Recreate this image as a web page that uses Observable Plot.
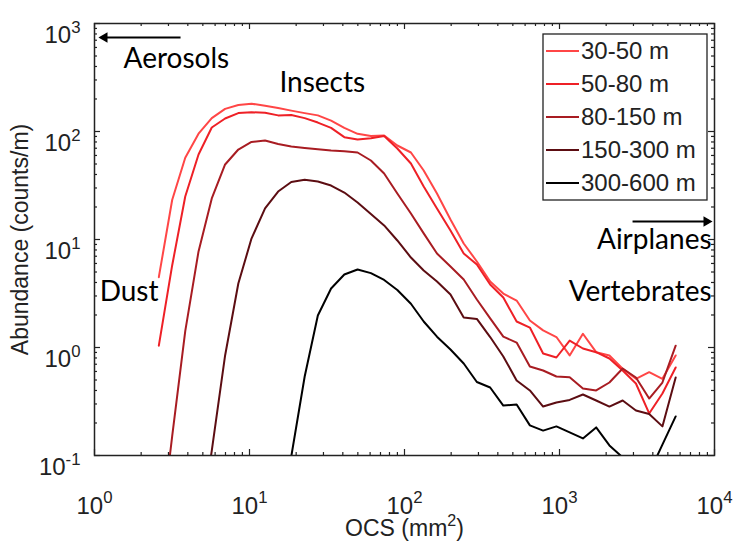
<!DOCTYPE html>
<html>
<head>
<meta charset="utf-8">
<script src="https://cdn.jsdelivr.net/npm/d3@7"></script>
<script src="https://cdn.jsdelivr.net/npm/@observablehq/plot@0.6"></script>
<style>
  html, body { margin: 0; padding: 0; background: #fff; }
  #chart { width: 733px; height: 541px; }
</style>
</head>
<body>
<div id="chart"></div>
<script>
// Optical cross-section bin centres (mm^2)
const ocs = [2.60, 3.17, 3.85, 4.69, 5.71, 6.96, 8.47, 10.3, 12.6, 15.3,
             18.6, 22.7, 27.6, 33.6, 40.9, 49.8, 60.7, 73.9, 89.9, 110,
             133, 162, 198, 241, 293, 357, 434, 529, 644, 784,
             955, 1163, 1416, 1724, 2099, 2556, 3112, 3789, 4613, 5617];

// Height bands
const bands = ["30-50 m", "50-80 m", "80-150 m", "150-300 m", "300-600 m"];
const bandColors = ["#ff4646", "#ee2026", "#a81c22", "#5c0d12", "#000000"];

// Abundance (counts/m) per OCS bin, one array per height band
const abund30to50 = [4.48, 23.2, 57.2, 95.4, 133, 162, 176, 181, 173, 165,
                     156, 148, 141, 126, 108, 95.1, 90.7, 91.8, 74.2, 63.9,
                     43.5, 26.7, 15.3, 9.18, 6.26, 4.08, 3.16, 2.72, 1.78, 1.44,
                     1.25, 0.844, 1.34, 0.905, 0.844, 0.635, 0.513, 0.591, 0.513, 0.844];
const abund50to80 = [1.04, 5.75, 25.0, 61.2, 109, 132, 148, 151, 149, 141,
                     142, 133, 121, 108, 88.6, 84.3, 86.7, 90.8, 69.6, 50.5,
                     31.0, 19.4, 12.1, 7.42, 5.87, 3.83, 2.90, 1.74, 1.53, 0.880,
                     0.808, 1.16, 0.979, 0.905, 0.791, 0.612, 0.464, 0.245, 0.375, 0.653];
const abund80to150 = [0.014, 0.150, 1.42, 7.76, 24.0, 49.5, 68.1, 80.0, 82.6, 76.6,
                      72.6, 70.5, 68.6, 66.7, 65.7, 63.9, 53.9, 40.8, 26.7, 17.4,
                      11.4, 7.42, 5.62, 4.26, 2.78, 1.86, 1.26, 1.11, 0.667, 0.612,
                      0.539, 0.531, 0.417, 0.400, 0.474, 0.639, 0.528, 0.337, 0.474, 1.04];
const abund150to300 = [null, null, null, 0.016, 0.111, 0.844, 3.91, 10.2, 19.4, 27.8,
                       34.1, 35.7, 34.4, 31.6, 27.2, 22.0, 17.2, 13.5, 9.79, 6.81,
                       5.16, 4.08, 3.10, 1.90, 1.84, 1.25, 0.826, 0.495, 0.400, 0.284,
                       0.310, 0.327, 0.367, 0.323, 0.284, 0.323, 0.261, 0.242, 0.186, 0.528];
const abund300to600 = [null, null, null, null, null, null, null, null, null, 0.017,
                       0.098, 0.539, 1.98, 3.52, 4.74, 5.28, 4.88, 4.22, 3.41, 2.54,
                       1.74, 1.26, 0.958, 0.711, 0.479, 0.426, 0.290, 0.297, 0.190, 0.170,
                       0.186, 0.164, 0.144, 0.182, 0.124, 0.096, 0.076, 0.069, 0.126, 0.230];

// Axis ticks
const xMajor = [1, 10, 100, 1000, 10000];
const yMajor = [0.1, 1, 10, 100, 1000];
const xMinor = d3.range(0, 4).flatMap(e => d3.range(2, 10).map(m => m * 10 ** e));
const yMinor = d3.range(-1, 3).flatMap(e => d3.range(2, 10).map(m => m * 10 ** e));

// Target-class annotations
const leftLabels = [
  {text: "Aerosols", x: 1.54, y: 464},
  {text: "Insects",  x: 15.6, y: 284},
  {text: "Dust",     x: 1.08, y: 3.23}
];
const rightLabels = [
  {text: "Airplanes",   x: 9570, y: 9.8},
  {text: "Vertebrates", x: 9570, y: 3.23}
];
const arrows = [
  {x1: 3.59, x2: 1.16, y: 742},
  {x1: 2960, x2: 8880, y: 14.7}
];

const profiles = [abund30to50, abund50to80, abund80to150, abund150to300, abund300to600];
const rows = profiles.flatMap((vals, i) =>
  vals.map((v, k) => ({ocs: ocs[k], abundance: v, band: bands[i]}))
).filter(d => d.abundance != null);

const frameH = 455 - 23, frameW = 714 - 94;
const majorLen = 6, minorLen = 3;
const fmt = d => `10^${Math.round(Math.log10(d))}`;
const tickStyle = {stroke: "#222", strokeWidth: 1.2};
const noteFont = "Lato, 'Open Sans', sans-serif";

const plot = Plot.plot({
  width: 733,
  height: 541,
  marginLeft: 94,
  marginRight: 19,
  marginTop: 23,
  marginBottom: 86,
  x: {type: "log", domain: [1, 1e4], axis: null},
  y: {type: "log", domain: [0.1, 1000], axis: null},
  color: {domain: bands, range: bandColors},
  style: {fontFamily: "'Liberation Sans', Arial, sans-serif", fontSize: "24px", background: "#fff", color: "#000"},
  marks: [
    // inward ticks on all four sides
    Plot.ruleX(xMajor, {x: d => d, insetTop: frameH - majorLen, ...tickStyle}),
    Plot.ruleX(xMajor, {x: d => d, insetBottom: frameH - majorLen, ...tickStyle}),
    Plot.ruleX(xMinor, {x: d => d, insetTop: frameH - minorLen, ...tickStyle}),
    Plot.ruleX(xMinor, {x: d => d, insetBottom: frameH - minorLen, ...tickStyle}),
    Plot.ruleY(yMajor, {y: d => d, insetRight: frameW - majorLen, ...tickStyle}),
    Plot.ruleY(yMajor, {y: d => d, insetLeft: frameW - majorLen, ...tickStyle}),
    Plot.ruleY(yMinor, {y: d => d, insetRight: frameW - minorLen, ...tickStyle}),
    Plot.ruleY(yMinor, {y: d => d, insetLeft: frameW - minorLen, ...tickStyle}),

    // abundance profiles
    Plot.line(rows, {x: "ocs", y: "abundance", z: "band", stroke: "band", strokeWidth: 2, clip: true}),

    // annotations
    Plot.link(arrows, {x1: "x1", x2: "x2", y1: "y", y2: "y", stroke: "#000", strokeWidth: 2}),
    Plot.dot(arrows, {x: "x2", y: "y", symbol: "triangle2", r: 5, fill: "#000",
                      rotate: d => d.x2 < d.x1 ? -90 : 90}),
    Plot.text(leftLabels, {x: "x", y: "y", text: "text", textAnchor: "start",
                           fontFamily: noteFont, fontSize: 28, fill: "#000"}),
    Plot.text(rightLabels, {x: "x", y: "y", text: "text", textAnchor: "end",
                            fontFamily: noteFont, fontSize: 28, fill: "#000"}),

    Plot.frame({stroke: "#222", strokeWidth: 1.5}),

    // tick labels
    Plot.text(xMajor, {x: d => d, frameAnchor: "bottom", dy: 58, text: fmt, fontSize: 24, fill: "#222"}),
    Plot.text(yMajor, {y: d => d, frameAnchor: "left", dx: -14, dy: 12, textAnchor: "end", text: fmt, fontSize: 24, fill: "#222"}),

    // axis titles
    Plot.text(["OCS (mm^2)"], {frameAnchor: "bottom", dy: 80, text: d => d, fontSize: 23, fill: "#222"}),
    Plot.text(["Abundance (counts/m)"], {frameAnchor: "left", dx: -74, rotate: -90, textAnchor: "middle",
                                         text: d => d, fontSize: 23, fill: "#222"})
  ]
});

// Turn "base^exp" strings into superscripts
d3.select(plot).selectAll("text").each(function () {
  const t = this.textContent;
  const m = t.match(/^(.*?)\^(-?\d+)(.*)$/);
  if (!m) return;
  const el = d3.select(this);
  el.text(null);
  el.append("tspan").text(m[1]);
  el.append("tspan").attr("dy", "-0.6em").attr("font-size", "0.7em").text(m[2]);
  if (m[3]) el.append("tspan").attr("dy", "0.42em").text(m[3]);
});

// Legend box inside the plot area
const color = plot.scale("color");
const legend = d3.select(plot).append("g")
  .attr("font-family", "'Liberation Sans', Arial, sans-serif")
  .attr("font-size", 24)
  .attr("text-anchor", "start");
legend.append("rect")
  .attr("x", 543).attr("y", 34).attr("width", 164).attr("height", 166)
  .attr("fill", "#fff").attr("stroke", "#222").attr("stroke-width", 1.3);
bands.forEach((b, i) => {
  const y = 51 + 33 * i;
  legend.append("line")
    .attr("x1", 546).attr("x2", 579).attr("y1", y).attr("y2", y)
    .attr("stroke", color.apply(b)).attr("stroke-width", 2);
  legend.append("text")
    .attr("x", 581).attr("y", y).attr("dy", "0.35em")
    .attr("fill", "#222").text(b);
});

document.getElementById("chart").append(plot);
</script>
</body>
</html>
